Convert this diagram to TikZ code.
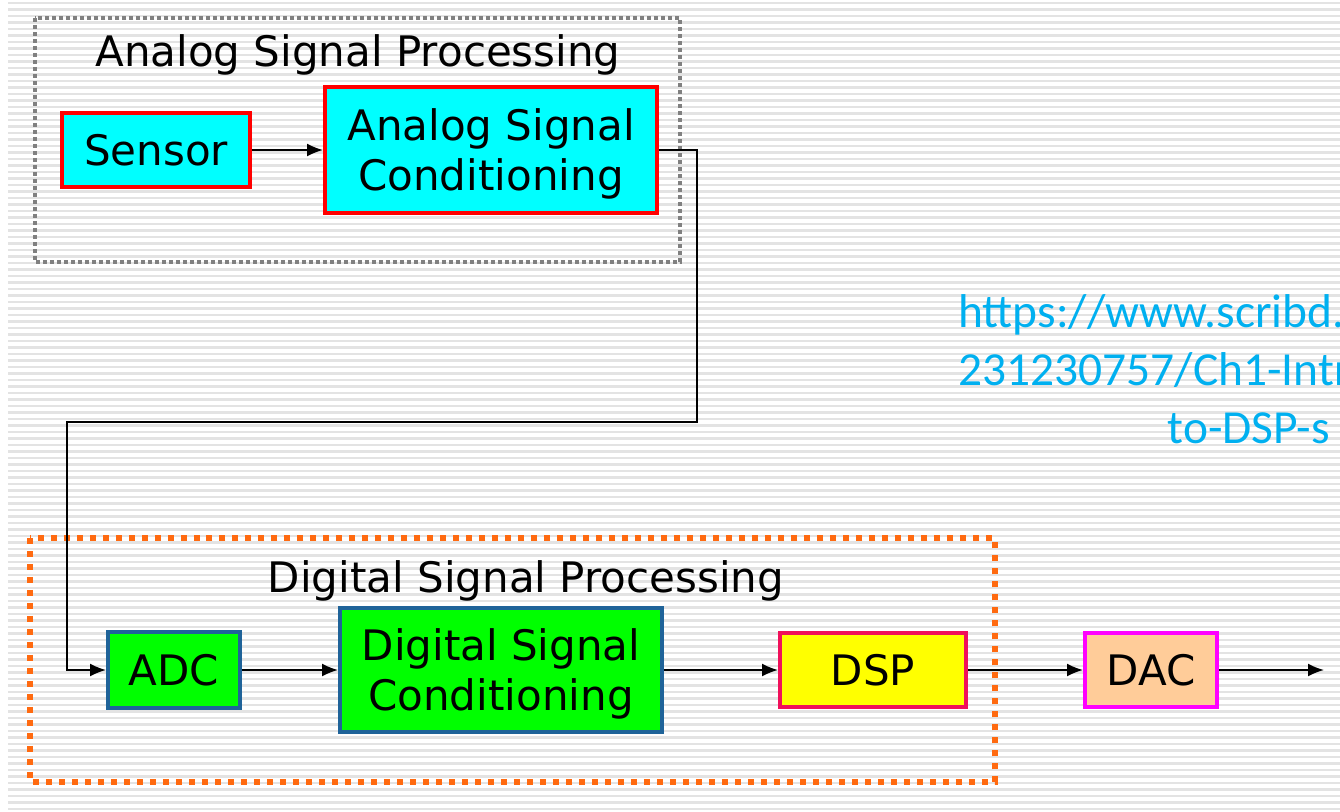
\documentclass[tikz,border=0pt]{standalone}
\usepackage{fontspec}
\setmainfont{DejaVu Sans}
\newfontfamily\urlfont{Carlito}
\usetikzlibrary{arrows.meta}
\definecolor{boxcyan}{HTML}{00FFFF}
\definecolor{boxgreen}{HTML}{00FF00}
\definecolor{boxblue}{HTML}{1F6399}
\definecolor{boxyellow}{HTML}{FFFF00}
\definecolor{dspedge}{HTML}{F0105A}
\definecolor{dacfill}{HTML}{FFCC99}
\definecolor{dacedge}{HTML}{FF00FF}
\definecolor{dotorange}{HTML}{FF6A10}
\definecolor{urlblue}{HTML}{00B0F0}
\tikzset{
  stripe/.style={gray!22,line width=0.045cm},
  blockfont/.style={font=\fontsize{23.9}{28.6}\selectfont,align=center,inner sep=0pt},
  block/.style={blockfont,draw,line width=0.08cm},
  anablock/.style={block,draw=red,fill=boxcyan},
  digblock/.style={block,draw=boxblue,fill=boxgreen},
  arr/.style={line width=0.035cm,-{Latex[length=0.32cm,width=0.26cm]}},
  title/.style={font=\fontsize{23.9}{28}\selectfont,anchor=base,inner sep=0pt},
  urltext/.style={font=\urlfont\fontsize{27}{31}\selectfont,text=urlblue,inner sep=0pt}
}
\begin{document}
\begin{tikzpicture}[x=0.02cm,y=-0.02cm]
 \clip (0,0) rectangle (1340,812);
 \fill[white] (0,0) rectangle (1340,812);
 % striped background
 \foreach \y in {3,9.5,...,812}
   \draw[stripe] (8,\y) -- (1340,\y);
 % group frames
 \draw[gray,line width=0.08cm,dash pattern=on 0.08cm off 0.06cm] (35,18) rectangle (680,262);
 \draw[dotorange,line width=0.11cm,dash pattern=on 0.12cm off 0.14cm] (30,538) rectangle (995,782);
 \node[title] (anatitle) at (358,66) {Analog Signal Processing};
 \node[title] (digtitle) at (526,592) {Digital Signal Processing};
 % blocks
 \node[anablock,minimum width=3.76cm,minimum height=1.5cm] (sensor) at (156,150) {Sensor};
 \node[anablock,minimum width=6.64cm,minimum height=2.52cm] (asc) at (491,150) {};
 \node[blockfont] (asctext) at (491,154) {Analog Signal\\Conditioning};
 \node[digblock,minimum width=2.64cm,minimum height=1.52cm] (adc) at (174,670) {ADC};
 \node[digblock,minimum width=6.44cm,minimum height=2.5cm] (dsc) at (501,670) {};
 \node[blockfont] (dsctext) at (501,674) {Digital Signal\\Conditioning};
 \node[block,draw=dspedge,fill=boxyellow,minimum width=3.72cm,minimum height=1.48cm] (dsp) at (873,670) {DSP};
 \node[block,draw=dacedge,fill=dacfill,minimum width=2.64cm,minimum height=1.48cm] (dac) at (1151,670) {DAC};
 % connectors
 \coordinate (turnA) at (697,422);
 \coordinate (turnB) at (67,422);
 \coordinate (out) at (1324,670);
 \draw[arr] (sensor) -- (asc);
 \draw[arr] (asc.east) -| (turnA) -- (turnB) |- (adc.west);
 \draw[arr] (adc) -- (dsc);
 \draw[arr] (dsc) -- (dsp);
 \draw[arr] (dsp) -- (dac);
 \draw[arr] (dac) -- (out);
 % source link
 \node[urltext,anchor=base west] (url1) at (958,327) {https://www.scribd.};
 \node[urltext,anchor=base west] (url2) at (958,385) {231230757/Ch1-Intr};
 \node[urltext,anchor=base east] (url3) at (1330,443) {to-DSP-s};
\end{tikzpicture}
\end{document}
